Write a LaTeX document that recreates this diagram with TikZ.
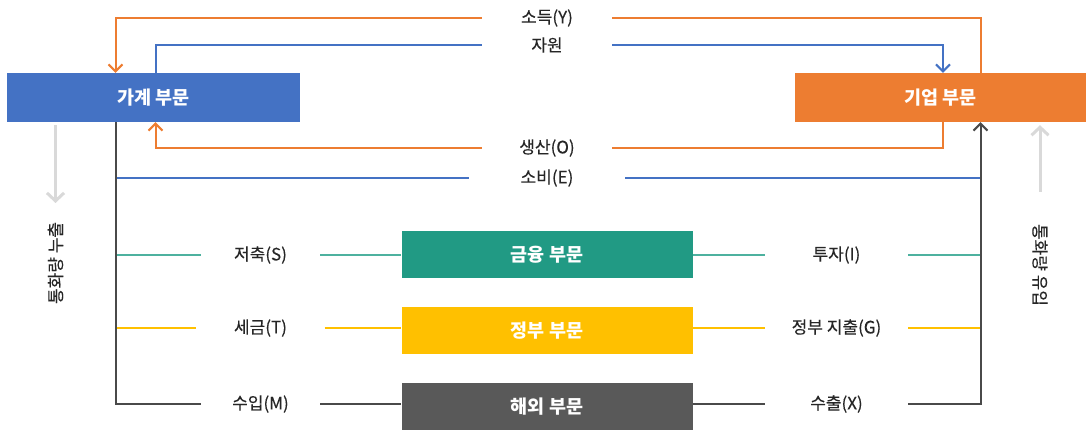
\documentclass[tikz,border=0pt]{standalone}
\usepackage{fontspec}
\usepackage{tikz}
\usetikzlibrary{arrows.meta}
\setmainfont{Noto Sans CJK KR}
\newfontfamily\flowfont[FakeBold=0.3]{Noto Sans CJK KR}
\definecolor{hhblue}{HTML}{4472C4}
\definecolor{firmorange}{HTML}{ED7D31}
\definecolor{finteal}{HTML}{219A84}
\definecolor{tealline}{HTML}{4DB19F}
\definecolor{govyellow}{HTML}{FFC000}
\definecolor{extgray}{HTML}{595959}
\definecolor{trunk}{HTML}{4A4A4A}
\definecolor{leakgray}{HTML}{D9D9D9}

\begin{document}
\begin{tikzpicture}[x=1pt, y=-1pt,
  sector/.style = {rectangle, draw=none, text=white, inner sep=0pt, font=\fontsize{18.5}{22}\selectfont\bfseries, minimum width=291pt, minimum height=47pt},
  flow/.style = {rectangle, inner sep=0pt, minimum height=16pt, text=black!85, font=\flowfont\fontsize{17}{20}\selectfont},
  link/.style = {line width=2pt},
  arrow/.style = {link, -{Straight Barb[length=7pt, width=14pt, line width=2pt]}},
  leak/.style = {line width=3pt, draw=leakgray, -{Straight Barb[length=8pt, width=17pt, line width=3pt]}}
]
\useasboundingbox (0,0) rectangle (1092,435);

% Sectors
\node[sector, fill=hhblue, minimum width=293pt, minimum height=49pt] at (153.5,97.5) (hh) {가계 부문};
\node[sector, fill=firmorange, minimum height=49pt] at (940.5,97.5) (firm) {기업 부문};
\node[sector, fill=finteal] at (547,254.5) (fin) {금융 부문};
\node[sector, fill=govyellow] at (547,330.5) (gov) {정부 부문};
\node[sector, fill=extgray] at (547,406.5) (ext) {해외 부문};

% Flow labels (node width = gap in the line)
\node[flow, minimum width=130pt] at (547,18) (income) {소득(Y)};
\node[flow, minimum width=130pt] at (547,45) (resource) {자원};
\node[flow, minimum width=130pt] at (547,148) (output) {생산(O)};
\node[flow, minimum width=156pt] at (547,178) (consume) {소비(E)};

\node[flow, minimum width=119pt] at (260.5,255) (save) {저축(S)};
\node[flow, minimum width=128pt] at (260.5,328) (tax) {세금(T)};
\node[flow, minimum width=119pt] at (260.5,404) (import) {수입(M)};
\node[flow, minimum width=143pt] at (836.5,255) (invest) {투자(I)};
\node[flow, minimum width=143pt] at (836.5,328) (spend) {정부 지출(G)};
\node[flow, minimum width=143pt] at (836.5,404) (export) {수출(X)};

% Money leakage and injection
\node[flow, rotate=90, font=\flowfont\fontsize{17}{20}\selectfont] at (55.5,263) (leakout) {통화량 누출};
\node[flow, rotate=-90, font=\flowfont\fontsize{17}{20}\selectfont] at (1040,265) (inflow) {통화량 유입};

% x positions of the vertical lines
\coordinate (hhL) at (115.5,0);
\coordinate (hhR) at (155.5,0);
\coordinate (firmL) at (943,0);
\coordinate (firmR) at (980.5,0);
\coordinate (leakend) at (55.5,203);
\coordinate (inflowstart) at (1040,192);

% Income and resources
\draw[link, draw=firmorange] (firm.north -| firmR) |- (income.east);
\draw[arrow, draw=firmorange] (income.west) -| (hh.north -| hhL);
\draw[link, draw=hhblue] (hh.north -| hhR) |- (resource.west);
\draw[arrow, draw=hhblue] (resource.east) -| (firm.north -| firmL);

% Production and consumption
\draw[link, draw=firmorange] (firm.south -| firmL) |- (output.east);
\draw[arrow, draw=firmorange] (output.west) -| (hh.south -| hhR);
\draw[link, draw=hhblue] (consume.west -| hhL) -- (consume.west);
\draw[link, draw=hhblue] (consume.east) -- (consume.east -| firmR);

% Saving / investment
\draw[link, draw=tealline] (save.west -| hhL) -- (save.west);
\draw[link, draw=tealline] (save.east) -- (save.east -| fin.west);
\draw[link, draw=tealline] (invest.west -| fin.east) -- (invest.west);
\draw[link, draw=tealline] (invest.east) -- (invest.east -| firmR);

% Taxes / government spending
\draw[link, draw=govyellow] (tax.west -| hhL) -- (tax.west);
\draw[link, draw=govyellow] (tax.east) -- (tax.east -| gov.west);
\draw[link, draw=govyellow] (spend.west -| gov.east) -- (spend.west);
\draw[link, draw=govyellow] (spend.east) -- (spend.east -| firmR);

% Imports / exports (outer trunk)
\draw[link, draw=trunk] (hh.south -| hhL) |- (import.west);
\draw[link, draw=trunk] (import.east) -- (import.east -| ext.west);
\draw[link, draw=trunk] (export.west -| ext.east) -- (export.west);
\draw[arrow, draw=trunk] (export.east) -| (firm.south -| firmR);

% Grey arrows
\draw[leak, shorten <=3pt] (hh.south -| leakend) -- (leakend);
\draw[leak, shorten >=3pt] (inflowstart) -- (firm.south -| inflowstart);

\end{tikzpicture}
\end{document}
